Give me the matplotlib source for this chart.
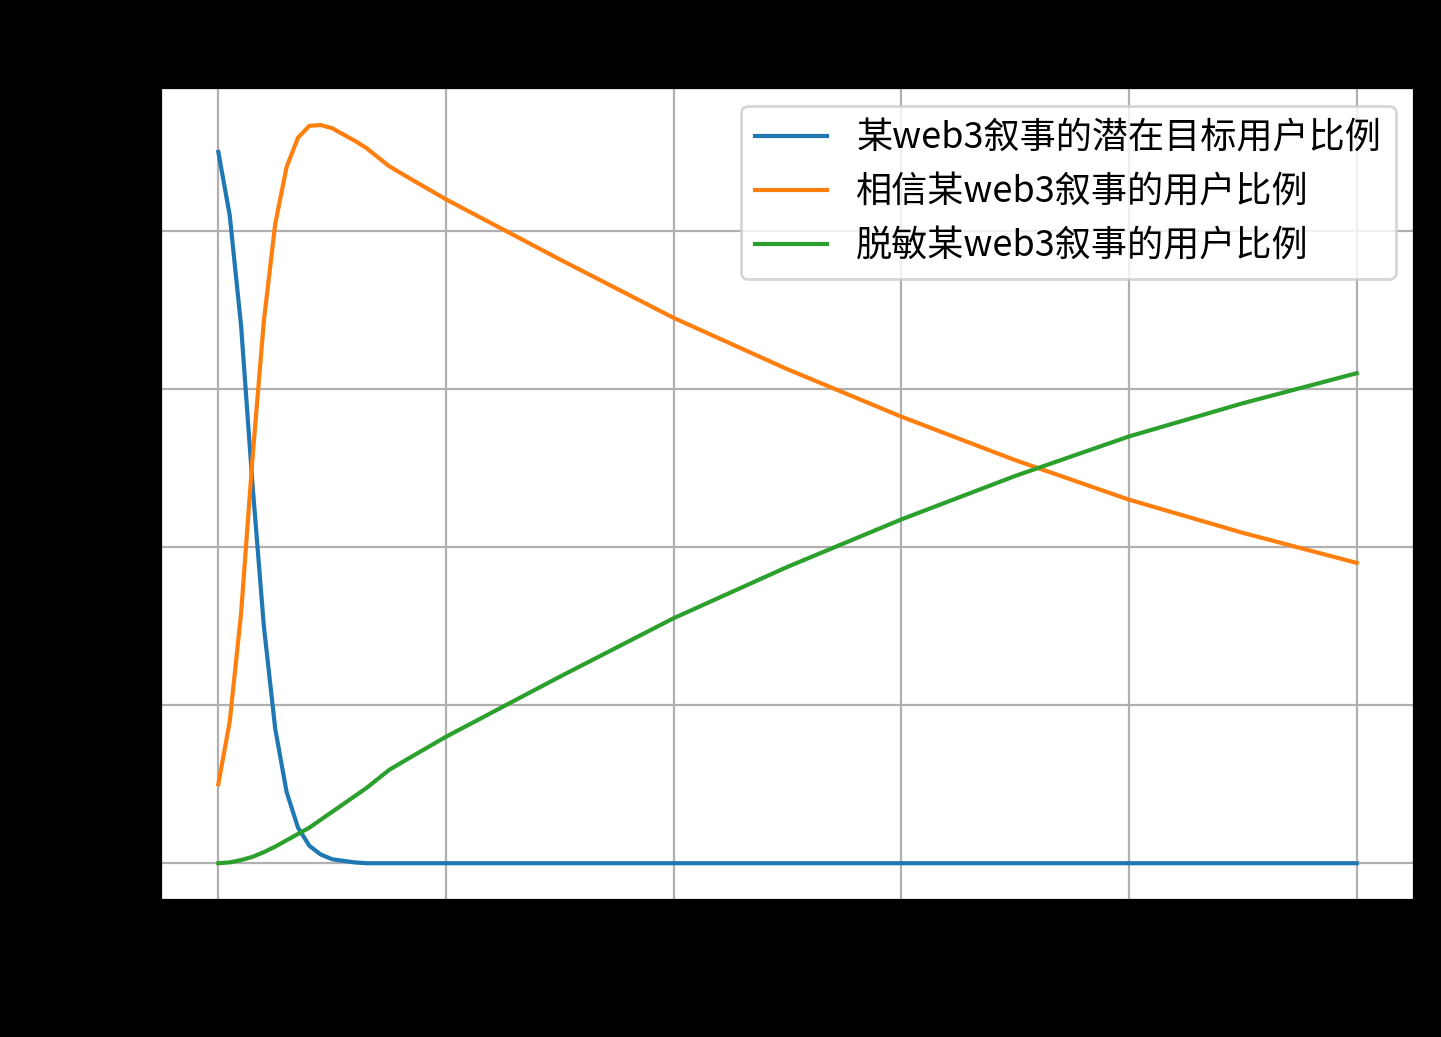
import matplotlib
matplotlib.use("Agg")
import matplotlib.pyplot as plt

plt.rcParams['font.family'] = ['Noto Sans CJK SC', 'DejaVu Sans']

t = [0, 1, 2, 3, 4, 5, 6, 7, 8, 9, 10, 11, 12, 13, 15, 17, 20, 25, 30, 40, 50, 60, 70, 80, 90, 100]
S = [0.90, 0.82, 0.68, 0.48, 0.30, 0.17, 0.09, 0.045, 0.022, 0.011, 0.005, 0.003, 0.001, 0.0, 0.0, 0.0, 0.0, 0.0, 0.0, 0.0, 0.0, 0.0, 0.0, 0.0, 0.0, 0.0]
R = [0.0, 0.001, 0.004, 0.008, 0.014, 0.021, 0.029, 0.037, 0.045, 0.055, 0.065, 0.075, 0.085, 0.095, 0.118, 0.135, 0.16, 0.198, 0.236, 0.31, 0.375, 0.435, 0.49, 0.54, 0.582, 0.62]
I = [0.10, 0.179, 0.316, 0.512, 0.686, 0.809, 0.881, 0.918, 0.933, 0.934, 0.930, 0.922, 0.914, 0.905, 0.882, 0.865, 0.84, 0.802, 0.764, 0.69, 0.625, 0.565, 0.51, 0.46, 0.418, 0.38]

labels = ['某web3叙事的潜在目标用户比例', '相信某web3叙事的用户比例', '脱敏某web3叙事的用户比例']

fig = plt.figure(figsize=(7.205, 5.185), dpi=200, facecolor='black')
ax = fig.add_axes([0.112, 0.132, 0.869, 0.783])
ax.plot(t, S, color='#1f77b4', label=labels[0])
ax.plot(t, I, color='#ff7f0e', label=labels[1])
ax.plot(t, R, color='#2ca02c', label=labels[2])
ax.set_xlabel('时间', fontsize=13)
ax.set_ylabel('比例', fontsize=13)
ax.set_title('Web3叙事流行病学的SIR模型分析', fontsize=14)
ax.tick_params(labelsize=12)
ax.grid(True)
ax.legend(loc='upper right', fontsize=13)
fig.savefig('out.png', dpi=200, facecolor='black')
